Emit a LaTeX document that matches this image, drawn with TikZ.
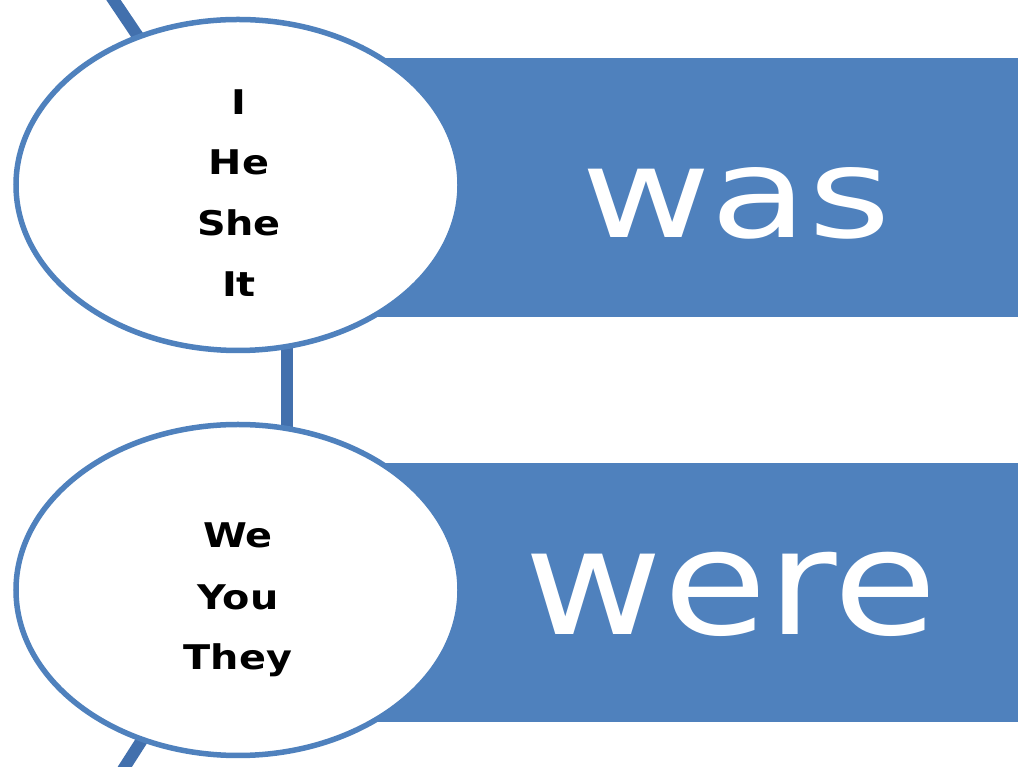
\documentclass[tikz,border=0pt]{standalone}
\usepackage{fontspec}
\usetikzlibrary{shapes.geometric,backgrounds}
\newfontfamily\labfont[FakeStretch=1.17]{DejaVu Sans}
\newfontfamily\wasfont[FakeStretch=1.27]{DejaVu Sans}
\newfontfamily\werefont[FakeStretch=1.15]{DejaVu Sans}
\definecolor{accent}{HTML}{4F81BD}
\definecolor{linkblue}{HTML}{4270AD}
\begin{document}
\begin{tikzpicture}[x=1pt,y=1pt,
  bubble/.style={ellipse, draw=accent, line width=5.5pt, fill=white, minimum width=444pt, minimum height=331pt, inner sep=0pt},
  bar/.style={fill=accent, draw=none, inner sep=0pt, minimum width=780pt, minimum height=259pt, anchor=east},
  pron/.style={font=\labfont\bfseries\fontsize{34}{40}\selectfont, anchor=base, inner sep=0pt, text=black},
  verb/.style={anchor=base, inner sep=0pt, text=white},
  link/.style={draw=linkblue, line width=12pt}]
\useasboundingbox (0,0) rectangle (1024,767);
% bars
\node[bar] (bar1) at (1018,579.5) {};
\node[bar] (bar2) at (1018,174.5) {};
% bubbles
\node[bubble] (c1) at (238,582) {};
\node[bubble] (c2) at (238,177) {};
% pronouns
\node[pron] (pI)   at (239,652) {I};
\node[pron] (pHe)  at (239,592) {He};
\node[pron] (pShe) at (239,531) {She};
\node[pron] (pIt)  at (239,470) {It};
\node[pron] (pWe)  at (238,219) {We};
\node[pron] (pYou) at (238,157) {You};
\node[pron] (pThey) at (238,97) {They};
% verbs
\node[verb, font=\wasfont\fontsize{125}{130}\selectfont] (vwas) at (736,529) {was};
\node[verb, font=\werefont\fontsize{147}{150}\selectfont] (vwere) at (731,132) {were};
% connectors
\coordinate (ttop) at (98,790);
\coordinate (tbot) at (110,-23);
\begin{pgfonlayer}{background}
\fill[white] (0,0) rectangle (1024,767);
\draw[link] (ttop) -- (c1.center);
\draw[link] ([xshift=49pt]c1.center) -- ([xshift=49pt]c2.center);
\draw[link] (tbot) -- (c2.center);
\end{pgfonlayer}
\end{tikzpicture}
\end{document}
